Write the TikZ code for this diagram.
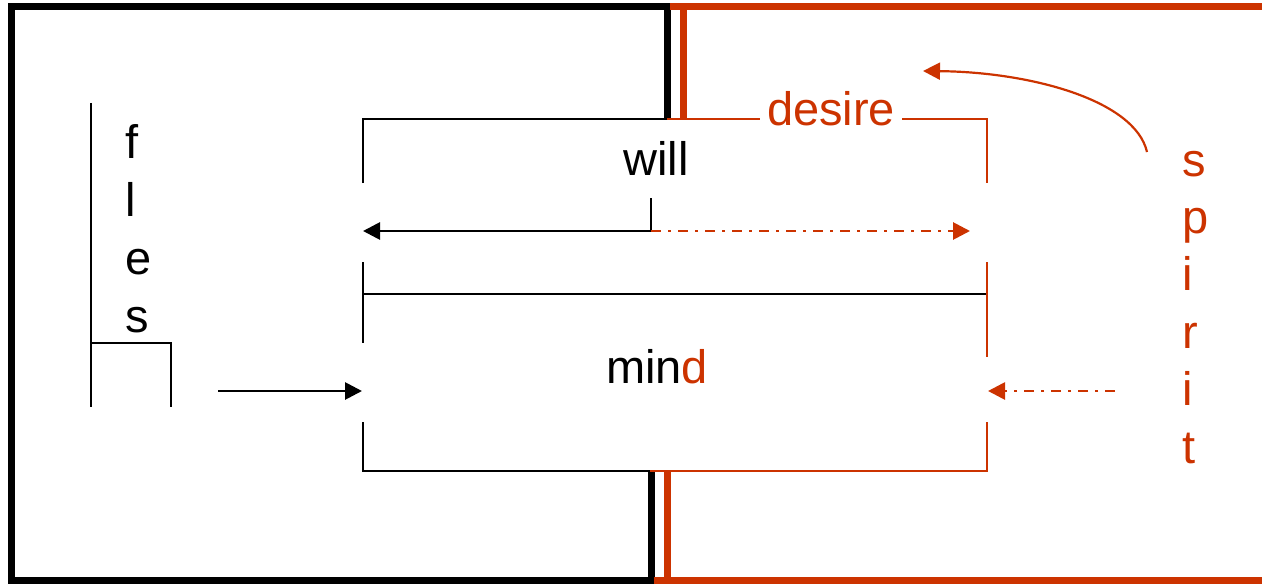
\documentclass[tikz,border=0pt]{standalone}
\usepackage{fontspec}
\setmainfont{Liberation Sans}
\usepackage{xcolor}
\usepackage{tikz}
\usetikzlibrary{arrows.meta}
\definecolor{ink}{HTML}{000000}
\definecolor{spirit}{HTML}{CC3300}

\begin{document}
\begin{tikzpicture}[x=0.5pt,y=-0.5pt,
  every node/.style={font=\fontsize{23.5}{28}\selectfont, inner sep=0pt},
  frame/.style={line width=3.5pt},
  boxline/.style={line width=1.1pt},
  arrowline/.style={line width=1.4pt},
  arr/.style={-{Triangle[length=8.5pt,width=8.5pt]}},
  dashdot/.style={dash pattern=on 5pt off 3.5pt on 1.5pt off 3.5pt}]
\useasboundingbox (0,0) rectangle (1262,583);
\clip (0,0) rectangle (1262,583);

% outer frames: black (self side) and red (spirit side)
\draw[frame,ink] (667,118) -- (667,7) -- (11,7) -- (11,580) -- (651,580) -- (651,471);
\draw[frame,spirit] (683,118) -- (683,7);
\draw[frame,spirit] (670,7) -- (1270,7);
\draw[frame,spirit] (667,471) -- (667,586);
\draw[frame,spirit] (654,580) -- (1270,580);

% self
\draw[boxline] (91,103) -- (91,407);
\draw[boxline] (91,343) -- (171,343) -- (171,407);
\foreach \ch [count=\i] in {f,l,e,s}{
  \node[anchor=base west] (self\i) at (125,{158+58.3*(\i-1)}) {\ch};
}

% spirit
\foreach \ch [count=\i] in {s,p,i,r,i,t}{
  \node[anchor=base west,text=spirit] (spirit\i) at (1182,{176+57.4*(\i-1)}) {\ch};
}

% will box, topped by desire
\node[anchor=base] (will) at (656,175) {will};
\node[anchor=base,text=spirit,inner xsep=3.5pt] (desire) at (831,126) {desire};
\coordinate (wtopmid) at (667,119);
\draw[boxline] (363,183) -- (363,119) -- (wtopmid);
\draw[boxline,spirit] (wtopmid) -- (desire.west |- wtopmid);
\draw[boxline,spirit] (desire.east |- wtopmid) -- (987,119) -- (987,183);

% will arrows
\coordinate (wtick) at (651,198);
\coordinate (wmid) at (651,231);
\coordinate (wleft) at (363,231);
\coordinate (wright) at (970,231);
\draw[arrowline,arr] (wtick) -- (wmid) -- (wleft);
\draw[arrowline,spirit,dashdot,arr] (wmid) -- (wright);

% mind box
\node[anchor=base] (mind) at (657,383) {min\textcolor{spirit}{d}};
\draw[boxline] (363,262) -- (363,343);
\draw[boxline] (363,294) -- (987,294);
\draw[boxline,spirit] (987,262) -- (987,357);
\draw[boxline] (363,422) -- (363,471) -- (650,471);
\draw[boxline,spirit] (650,471) -- (987,471) -- (987,422);

% arrows into mind
\coordinate (selfout) at (218,391);
\coordinate (mindin) at (362,391);
\coordinate (spiritout) at (1115,391);
\coordinate (mindright) at (988,391);
\draw[arrowline,arr] (selfout) -- (mindin);
\draw[arrowline,spirit,dashdot,arr] (spiritout) -- (mindright);

% spirit reaching up past desire
\coordinate (spirittop) at (1147,152);
\coordinate (abovedesire) at (923,71);
\draw[boxline,spirit,arr] (spirittop) .. controls (1135,100) and (1030,72) .. (abovedesire);
\end{tikzpicture}
\end{document}
